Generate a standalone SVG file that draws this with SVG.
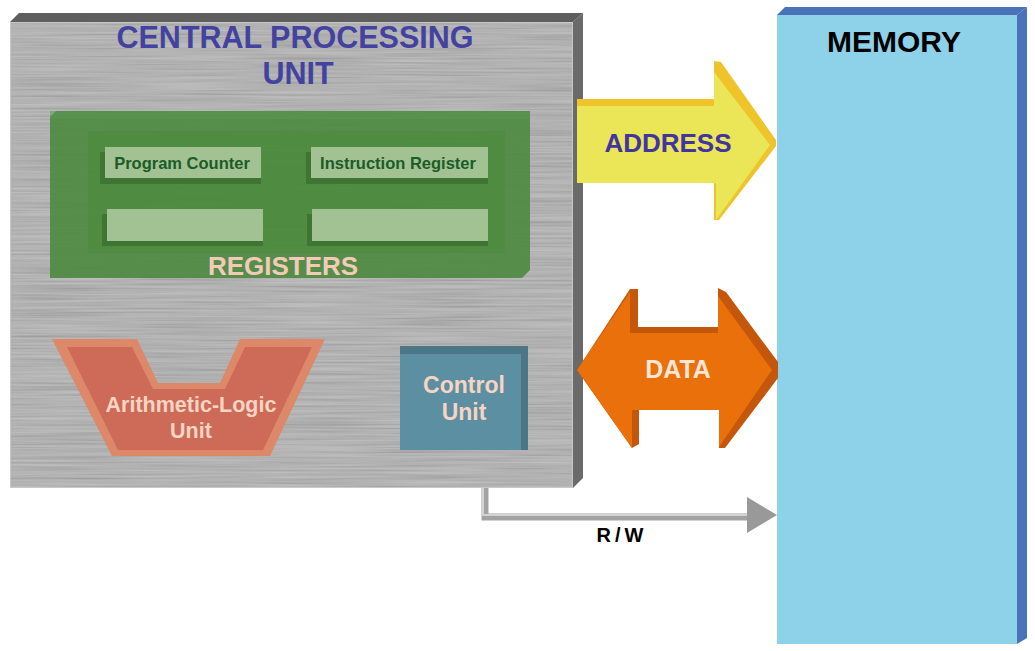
<svg xmlns="http://www.w3.org/2000/svg" width="1035" height="651" viewBox="0 0 1035 651">
<defs>
<filter id="brushed" x="0" y="0" width="100%" height="100%">
<feTurbulence type="fractalNoise" baseFrequency="0.008 0.5" numOctaves="2" seed="4"/>
<feColorMatrix type="matrix" values="1 0 0 0 0  1 0 0 0 0  1 0 0 0 0  0 0 0 0 0.25"/>
</filter>
<style>
.t{font-family:"Liberation Sans",Arial,sans-serif;font-weight:bold;text-anchor:middle}
.reg{fill:#a3c293}
.regsh{fill:#3f7533}
</style>
</defs>
<rect width="1035" height="651" fill="#ffffff"/>

<g id="cpu">
<polygon points="10,22 19,13 583,13 573,22" fill="#5e5e5e"/>
<polygon points="573,22 583,13 583,478 573,488" fill="#6a6a6a"/>
<rect x="10" y="22" width="563" height="466" fill="#afafaf"/>
<rect x="10" y="22" width="563" height="466" fill="#000" filter="url(#brushed)"/>
<rect x="10.5" y="22.5" width="562" height="465" fill="none" stroke="#c8c8c8" stroke-width="1"/>
<text class="t" x="295" y="48" font-size="30.5" fill="#4342a0">CENTRAL PROCESSING</text>
<text class="t" x="298" y="84" font-size="30.5" fill="#4342a0">UNIT</text>
</g>

<g id="registers">
<polygon points="56,111 530,111 530,270 522,278 50,278 50,117" fill="#4f8a42" opacity="0.92"/>
<rect x="50" y="111" width="480" height="8" fill="#5a9450" opacity="0.5"/>
<rect x="88" y="131" width="417" height="122" fill="#478a38" opacity="0.5"/>
<rect class="regsh" x="100" y="152" width="161" height="32"/>
<rect class="reg" x="105" y="147" width="156" height="31"/>
<rect class="regsh" x="306" y="152" width="182" height="32"/>
<rect class="reg" x="311" y="147" width="177" height="31"/>
<rect class="regsh" x="102" y="214" width="161" height="32"/>
<rect class="reg" x="107" y="209" width="156" height="32"/>
<rect class="regsh" x="307" y="214" width="181" height="32"/>
<rect class="reg" x="312" y="209" width="176" height="32"/>
<text class="t" x="182" y="169" font-size="16.5" fill="#1b5c28">Program Counter</text>
<text class="t" x="398" y="169" font-size="16.5" fill="#1b5c28">Instruction Register</text>
<text class="t" x="283" y="275" font-size="26" fill="#f2cbb8">REGISTERS</text>
</g>

<g id="alu">
<polygon points="52,339 137,339 158,383 220,383 240,339 325,339 270,456 112,456" fill="#dc8869"/>
<polygon points="67,347 132,347 153,389 225,389 245,347 312,347 263,450 118,450" fill="#cd6b58"/>
<text class="t" x="191" y="412" font-size="21.5" fill="#f7d4c4">Arithmetic-Logic</text>
<text class="t" x="191" y="438" font-size="21.5" fill="#f7d4c4">Unit</text>
</g>

<g id="control">
<rect x="400" y="346" width="128" height="104" fill="#5b8fa1"/>
<rect x="400" y="346" width="128" height="8" fill="#4b7686"/>
<rect x="521" y="346" width="7" height="104" fill="#4b7686"/>
<text class="t" x="464" y="393" font-size="23" fill="#f7d4c4">Control</text>
<text class="t" x="464" y="420" font-size="23" fill="#f7d4c4">Unit</text>
</g>

<g id="memory">
<polygon points="777,15 785,7 1027,7 1017,15" fill="#4a72b8"/>
<polygon points="1017,15 1027,7 1027,638 1017,644" fill="#4a72b8"/>
<rect x="777" y="15" width="240" height="629" fill="#8dd2e8"/>
<text class="t" x="894" y="52" font-size="30" fill="#000000">MEMORY</text>
</g>

<g id="connectors">
<g id="address">
<polygon points="577,99 714,99 714,61 721,62 776,140 776,146 719,220 714,220 714,183 577,183" fill="#efc42a"/>
<polygon points="577,106 714,106 714,72 770,145 716,220 716,183 577,183" fill="#ebe657"/>
<text class="t" x="668" y="152" font-size="26" fill="#4035a3">ADDRESS</text>
</g>
<g id="data">
<polygon points="577,370 630,289 638,289 638,327 718,327 718,288 726,292 778,362 778,378 725,448 719,448 719,410 639,410 639,444 632,448" fill="#c4570b"/>
<polygon points="577,370 630,292 630,333 718,333 718,296 772,370 719,447 719,410 632,410 632,448" fill="#e9700b"/>
<text class="t" x="678" y="378" font-size="25" fill="#fde6d6">DATA</text>
</g>
<g id="rw">
<path d="M485,488 V517 H752" fill="none" stroke="#a2a2a2" stroke-width="7"/>
<path d="M483,488 V515 H752" fill="none" stroke="#d2d2d2" stroke-width="2"/>
<polygon points="747,497 777,515 747,533" fill="#999999"/>
<text class="t" x="622" y="542" font-size="20" letter-spacing="4" fill="#000000">R/W</text>
</g>
</g>
</svg>
